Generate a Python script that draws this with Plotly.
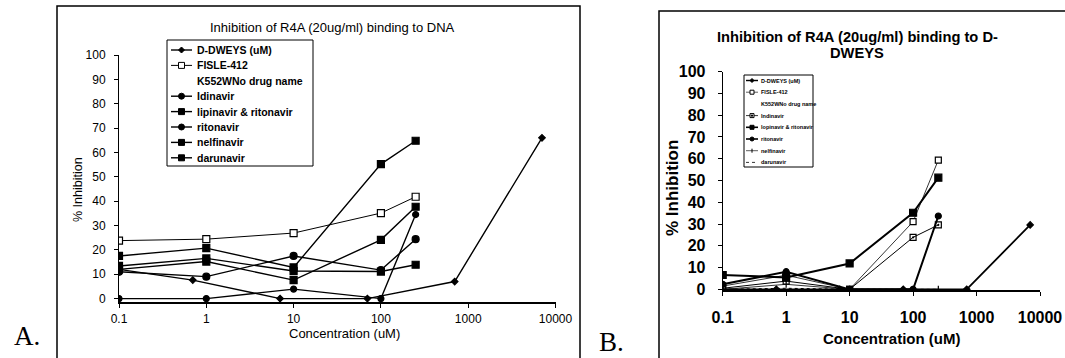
import plotly.graph_objects as go

# ---------------- data ----------------
conc = [0.1, 1, 10, 100, 250]
ddweys_conc = [0.07, 0.7, 7, 70, 700, 7000]
x_tickvals = [0.1, 1, 10, 100, 1000, 10000]
x_ticktext = ["0.1", "1", "10", "100", "1000", "10000"]
y_tickvals = [0, 10, 20, 30, 40, 50, 60, 70, 80, 90, 100]

names_a = ["D-DWEYS (uM)", "FISLE-412", "K552WNo drug name", "Idinavir",
           "lipinavir & ritonavir", "ritonavir", "nelfinavir", "darunavir"]
names_b = ["D-DWEYS (uM)", "FISLE-412", "K552WNo drug name", "Indinavir",
           "lopinavir & ritonavir", "ritonavir", "nelfinavir", "darunavir"]

# Panel A: binding to DNA
a_ddweys = [12.8, 7.6, 0, 0, 7, 66]
a_fisle = [23.8, 24.4, 26.9, 35.1, 41.8]
a_k552 = []
a_idinavir = [11, 9, 17.5, 11.7, 24.4]
a_lop_rit = [17.5, 20.7, 12.8, 55.2, 64.8]
a_ritonavir = [0, 0, 3.9, 0, 34.5]
a_nelfinavir = [12, 15.2, 7.6, 24.1, 37.7]
a_darunavir = [13.4, 16.5, 11.3, 11.1, 13.9]

# Panel B: binding to D-DWEYS
b_ddweys = [0, 0, 0, 0, 0, 29.6]
b_fisle = [1.5, 6.5, 0, 31.1, 59.4]
b_k552 = []
b_indinavir = [0.5, 3.8, 0, 23.9, 29.6]
b_lop_rit = [6.6, 5.5, 11.9, 35.2, 51.3]
b_ritonavir = [2.3, 8.1, 0, 0, 33.7]
b_nelfinavir = [0, 2.3, 0, 0, 0]
b_darunavir = [0, 0.5, 0, 0, 0]

# ---------------- styles ----------------
styles_a = [
    dict(symbol="diamond", size=5, width=1.4, open=False, dash="solid"),
    dict(symbol="square", size=7, width=1.0, open=True, dash="solid"),
    None,
    dict(symbol="circle", size=7, width=1.4, open=False, dash="solid"),
    dict(symbol="square", size=7, width=1.4, open=False, dash="solid"),
    dict(symbol="circle", size=6, width=1.4, open=False, dash="solid"),
    dict(symbol="square", size=7, width=1.4, open=False, dash="solid"),
    dict(symbol="square", size=7, width=1.4, open=False, dash="solid"),
]
styles_b = [
    dict(symbol="diamond", size=5, width=1.8, open=False, dash="solid"),
    dict(symbol="square", size=6, width=0.8, open=True, dash="solid"),
    None,
    dict(symbol="square-open-dot", size=6, width=1.0, open=False, dash="solid"),
    dict(symbol="square", size=7, width=2.0, open=False, dash="solid"),
    dict(symbol="circle", size=6, width=2.0, open=False, dash="solid"),
    dict(symbol="line-ns", size=5, width=0.8, open=False, dash="solid"),
    dict(symbol=None, size=0, width=1.0, open=False, dash="dot"),
]

W, H = 1065, 358
def px(x):
    return x / W
def py(y):
    return 1 - y / H

SANS = "Liberation Sans, Arial, sans-serif"
SERIF = "Liberation Serif, Times New Roman, serif"

fig = go.Figure()

def add_series(xs, ys, name, st, xa, ya):
    if st is None:
        return
    mode = "lines+markers" if st["symbol"] else "lines"
    marker = None
    if st["symbol"]:
        marker = dict(symbol=st["symbol"], size=st["size"],
                      color="white" if st["open"] else "black",
                      line=dict(color="black", width=1.2))
    fig.add_trace(go.Scatter(x=xs, y=ys, name=name, mode=mode, showlegend=False,
                             xaxis=xa, yaxis=ya,
                             line=dict(color="black", width=st["width"], dash=st["dash"]),
                             marker=marker))

series_a = [(ddweys_conc, a_ddweys), (conc, a_fisle), (conc, a_k552), (conc, a_idinavir),
            (conc, a_lop_rit), (conc, a_ritonavir), (conc, a_nelfinavir), (conc, a_darunavir)]
series_b = [(ddweys_conc, b_ddweys), (conc, b_fisle), (conc, b_k552), (conc, b_indinavir),
            (conc, b_lop_rit), (conc, b_ritonavir), (conc, b_nelfinavir), (conc, b_darunavir)]

for (xs, ys), name, st in zip(series_a, names_a, styles_a):
    add_series(xs, ys, name, st, "x", "y")
for (xs, ys), name, st in zip(series_b, names_b, styles_b):
    add_series(xs, ys, name, st, "x2", "y2")

axis_common = dict(showgrid=False, zeroline=False, showline=True, linecolor="black",
                   ticks="outside", tickcolor="black", ticklen=4, mirror=False)

fig.update_layout(
    width=W, height=H, margin=dict(l=0, r=0, t=0, b=0, autoexpand=False),
    paper_bgcolor="white", plot_bgcolor="white",
    font=dict(family=SANS, color="black"),
    showlegend=False,
    xaxis=dict(axis_common, type="log", range=[-1, 4], domain=[px(119), px(555.5)],
               tickvals=x_tickvals, ticktext=x_ticktext, anchor="y",
               linewidth=1.5, tickfont=dict(size=12), ticklabelstandoff=1),
    yaxis=dict(axis_common, range=[-1.4, 100], domain=[py(302), py(55)],
               tickvals=y_tickvals, anchor="x", linewidth=1,
               tickfont=dict(size=12), ticklabelstandoff=6),
    xaxis2=dict(axis_common, type="log", range=[-1, 4], domain=[px(722.7), px(1040)],
                tickvals=x_tickvals, ticktext=x_ticktext, anchor="y2",
                linewidth=1.5, tickfont=dict(size=16, weight="bold"),
                ticklabelstandoff=8),
    yaxis2=dict(axis_common, range=[-0.3, 100], domain=[py(290), py(71.7)],
                tickvals=y_tickvals, anchor="x2", linewidth=1,
                tickfont=dict(size=16, weight="bold"), ticklabelstandoff=9),
)

annotations = [
    # Panel A texts
    dict(text="Inhibition of R4A (20ug/ml) binding to DNA", x=px(332), y=py(27),
         font=dict(size=13)),
    dict(text="Concentration (uM)", x=px(344), y=py(333), font=dict(size=13)),
    dict(text="% Inhibition", x=px(78), y=py(190), textangle=-90, font=dict(size=12.5)),
    dict(text="A.", x=px(27), y=py(336), font=dict(size=27, family=SERIF)),
    # Panel B texts
    dict(text="Inhibition of R4A (20ug/ml) binding to D-", x=px(857), y=py(37),
         font=dict(size=14.7, weight="bold")),
    dict(text="DWEYS", x=px(857), y=py(53), font=dict(size=14.7, weight="bold")),
    dict(text="Concentration (uM)", x=px(891), y=py(338), font=dict(size=15, weight="bold")),
    dict(text="% Inhibition", x=px(672), y=py(188), textangle=-90,
         font=dict(size=17, weight="bold")),
    dict(text="B.", x=px(611), y=py(342), font=dict(size=27, family=SERIF)),
]
for a in annotations:
    a.update(xref="paper", yref="paper", showarrow=False, xanchor="center", yanchor="middle")

shapes = []
# panel frames
shapes.append(dict(type="rect", xref="paper", yref="paper",
                   x0=px(57), x1=px(580), y0=py(420), y1=py(6),
                   line=dict(color="black", width=1.5), layer="below"))
shapes.append(dict(type="rect", xref="paper", yref="paper",
                   x0=px(659), x1=px(1100), y0=py(420), y1=py(11),
                   line=dict(color="black", width=1.5), layer="below"))


def marker_shapes(st, cx, cy, size):
    out = []
    h = size / 2.0
    sym = st["symbol"]
    base = dict(xref="paper", yref="paper", line=dict(color="black", width=1))
    if sym == "square":
        out.append(dict(base, type="rect", x0=px(cx - h), x1=px(cx + h), y0=py(cy + h), y1=py(cy - h),
                        fillcolor="white" if st["open"] else "black"))
    elif sym == "square-open-dot":
        out.append(dict(base, type="rect", x0=px(cx - h), x1=px(cx + h), y0=py(cy + h), y1=py(cy - h),
                        fillcolor="white"))
        out.append(dict(base, type="rect", x0=px(cx - 0.6), x1=px(cx + 0.6), y0=py(cy + 0.6),
                        y1=py(cy - 0.6), fillcolor="black"))
    elif sym == "circle":
        out.append(dict(base, type="circle", x0=px(cx - h), x1=px(cx + h), y0=py(cy + h), y1=py(cy - h),
                        fillcolor="black"))
    elif sym == "diamond":
        path = "M {},{} L {},{} L {},{} L {},{} Z".format(
            px(cx), py(cy - h), px(cx + h), py(cy), px(cx), py(cy + h), px(cx - h), py(cy))
        out.append(dict(base, type="path", path=path, fillcolor="black"))
    elif sym == "line-ns":
        out.append(dict(base, type="line", x0=px(cx), x1=px(cx), y0=py(cy + h), y1=py(cy - h)))
    return out


def draw_legend(names, styles, box, first_y, step, lx0, lx1, tx, fsize, msize, lw_scale):
    L, T, R, B = box
    shapes.append(dict(type="rect", xref="paper", yref="paper", x0=px(L), x1=px(R),
                       y0=py(B), y1=py(T), line=dict(color="black", width=1),
                       fillcolor="white"))
    for i, (name, st) in enumerate(zip(names, styles)):
        yi = first_y + i * step
        annotations.append(dict(text=name, x=px(tx), y=py(yi), xref="paper", yref="paper",
                                showarrow=False, xanchor="left", yanchor="middle",
                                font=dict(size=fsize, weight="bold")))
        if st is None:
            continue
        shapes.append(dict(type="line", xref="paper", yref="paper", x0=px(lx0), x1=px(lx1),
                           y0=py(yi), y1=py(yi),
                           line=dict(color="black", width=st["width"] * lw_scale, dash=st["dash"])))
        if st["symbol"]:
            shapes.extend(marker_shapes(st, (lx0 + lx1) / 2.0, yi, msize))


draw_legend(names_a, styles_a, (167, 40, 313, 166), 50, 15.4, 171, 192, 195, 10.5, 6, 1.0)
draw_legend(names_b, styles_b, (744, 75, 813, 167), 80.5, 11.7, 746, 758, 759, 5.5, 4, 0.8)

fig.update_layout(annotations=annotations, shapes=shapes)

fig.write_html("out.html",
               config={"displayModeBar": False},
               post_script="document.body.style.margin='0';document.body.style.overflow='hidden';")
